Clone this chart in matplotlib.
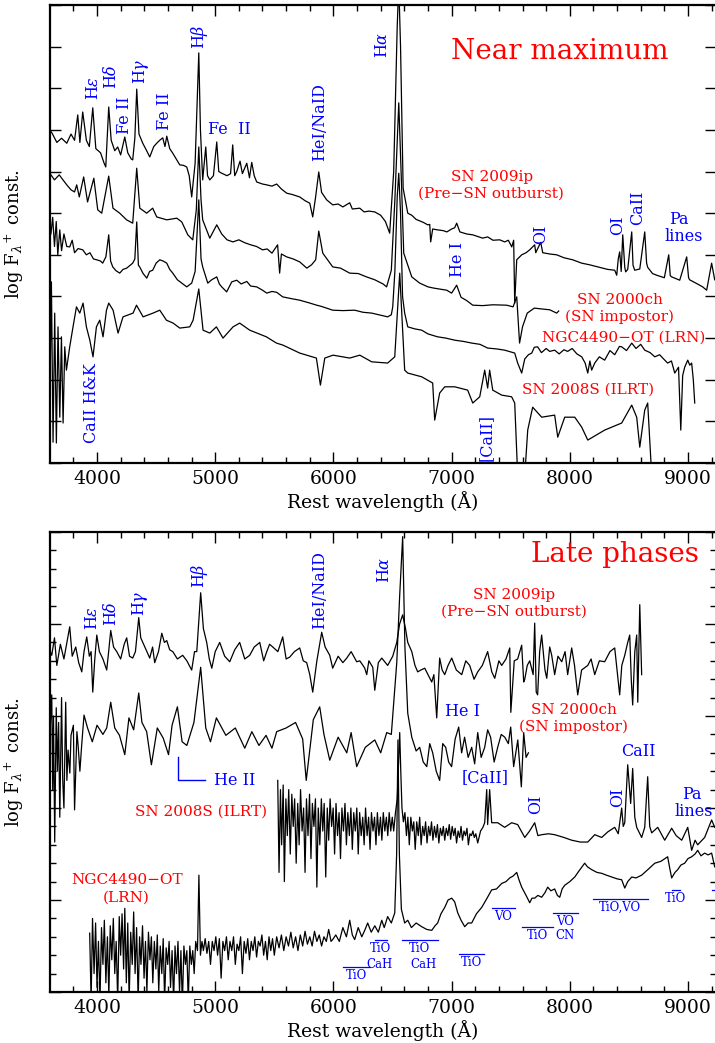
import numpy as np
import matplotlib.pyplot as plt
from matplotlib.ticker import MultipleLocator, NullFormatter

plt.rcParams['font.family'] = ['DejaVu Serif']
plt.rcParams['mathtext.fontset'] = 'dejavuserif'

BLUE = '#0000ff'
RED = '#ff0000'

# %% spectra near maximum  (wavelength [A], log F + const.)
sn2009ip_max = [
    (3600, 8.00), (3620, 7.92), (3660, 7.70), (3700, 7.80), (3744, 7.68), (3780, 7.90),
    (3810, 7.75), (3837, 8.36), (3855, 7.70), (3879, 8.43), (3910, 7.75), (3935, 7.60),
    (3964, 8.53), (3990, 7.55), (4030, 7.45), (4060, 7.20), (4074, 7.11), (4099, 8.55),
    (4120, 7.75), (4150, 7.50), (4175, 7.59), (4200, 7.40), (4235, 7.83), (4260, 7.45),
    (4290, 7.30), (4302, 7.28), (4320, 7.80), (4336, 8.98), (4355, 7.90), (4387, 7.68),
    (4420, 7.50), (4446, 7.35), (4480, 7.60), (4505, 7.68), (4530, 7.75), (4556, 7.81),
    (4575, 7.60), (4590, 7.85), (4615, 7.55), (4641, 7.44), (4670, 7.30), (4700, 7.16),
    (4730, 7.15), (4759, 7.11), (4780, 6.90), (4801, 6.39), (4830, 7.20), (4861, 9.85),
    (4875, 8.00), (4894, 6.80), (4920, 7.59), (4935, 6.90), (4954, 6.80), (4985, 6.90),
    (5013, 7.71), (5030, 7.00), (5055, 6.96), (5100, 6.90), (5130, 6.95), (5148, 7.64),
    (5165, 6.90), (5182, 7.00), (5210, 7.25), (5230, 6.95), (5267, 7.20), (5290, 6.85),
    (5309, 7.22), (5330, 6.90), (5351, 6.75), (5400, 6.70), (5436, 6.68), (5480, 6.65),
    (5520, 6.70), (5560, 6.58), (5605, 6.48), (5650, 6.45), (5715, 6.39), (5760, 6.30),
    (5800, 6.24), (5825, 5.91), (5850, 6.40), (5876, 6.99), (5900, 6.50), (5943, 6.32),
    (5994, 6.20), (6040, 6.22), (6080, 6.15), (6138, 6.25), (6160, 6.10), (6223, 6.12),
    (6260, 6.03), (6300, 6.05), (6350, 6.03), (6400, 5.95), (6440, 5.80), (6476, 5.52),
    (6510, 7.00), (6540, 10.5), (6553, 11.5), (6568, 10.0), (6590, 6.60), (6629, 6.00),
    (6663, 5.95), (6700, 5.85), (6760, 5.78), (6798, 5.72), (6815, 5.73), (6823, 5.31),
    (6840, 5.62), (6880, 5.60), (6930, 5.58), (6960, 5.55), (7000, 5.62), (7026, 5.65),
    (7043, 5.76), (7070, 5.55), (7128, 5.50), (7179, 5.48), (7263, 5.40), (7305, 5.43),
    (7350, 5.35), (7407, 5.36), (7449, 5.31), (7480, 5.35), (7509, 5.19), (7525, 5.35),
    (7534, 3.84), (7545, 4.50), (7551, 4.88), (7593, 5.00), (7630, 5.05), (7661, 5.12),
    (7703, 5.24), (7712, 5.05), (7720, 5.10), (7754, 5.30), (7771, 5.05), (7830, 5.02),
    (7889, 5.00), (7950, 4.93), (8025, 4.88), (8100, 4.80), (8168, 4.76), (8250, 4.70),
    (8320, 4.65), (8380, 4.63), (8397, 4.51), (8410, 4.90), (8422, 5.07), (8435, 4.60),
    (8448, 5.48), (8465, 4.70), (8473, 4.59), (8490, 4.65), (8524, 5.55), (8535, 4.75),
    (8549, 4.63), (8592, 4.66), (8634, 5.55), (8650, 4.80), (8659, 4.70), (8700, 4.55),
    (8735, 4.51), (8800, 4.45), (8837, 5.00), (8850, 4.50), (8862, 4.47), (8930, 4.39),
    (8989, 4.95), (9005, 4.45), (9014, 4.40), (9080, 4.30), (9124, 4.23), (9158, 4.15),
    (9200, 4.80), (9226, 4.40),
]

sn2000ch_max = [
    (3600, 6.96), (3640, 6.80), (3680, 6.92), (3744, 6.68), (3780, 6.56), (3810, 6.51),
    (3828, 6.68), (3850, 6.39), (3887, 6.87), (3920, 6.27), (3973, 6.84), (4006, 6.08),
    (4040, 6.00), (4099, 6.89), (4135, 6.12), (4192, 6.00), (4250, 5.84), (4302, 5.76),
    (4336, 7.08), (4362, 6.12), (4420, 6.00), (4471, 6.12), (4505, 5.91), (4590, 5.84),
    (4675, 5.88), (4717, 5.79), (4768, 5.48), (4810, 5.36), (4840, 6.08), (4861, 7.59),
    (4880, 6.32), (4894, 5.84), (4954, 5.40), (5013, 5.72), (5055, 5.50), (5100, 5.36),
    (5150, 5.31), (5200, 5.36), (5250, 5.29), (5300, 5.24), (5350, 5.20), (5400, 5.12),
    (5440, 5.14), (5480, 5.04), (5528, 5.24), (5545, 4.56), (5560, 5.02), (5605, 4.95),
    (5660, 4.90), (5715, 4.83), (5775, 4.68), (5815, 4.76), (5850, 4.88), (5876, 5.57),
    (5910, 5.04), (5994, 4.71), (6060, 4.68), (6138, 4.56), (6210, 4.55), (6280, 4.47),
    (6350, 4.40), (6420, 4.30), (6450, 4.23), (6490, 4.63), (6520, 6.32), (6553, 8.65),
    (6575, 6.80), (6595, 5.04), (6663, 4.47), (6730, 4.32), (6800, 4.23), (6850, 4.20),
    (6959, 4.15), (7000, 4.08), (7043, 4.27), (7080, 3.98), (7128, 3.90), (7179, 3.79),
    (7263, 3.78), (7350, 3.80), (7466, 3.79), (7520, 3.75), (7551, 3.99), (7575, 2.88),
    (7600, 3.27), (7640, 3.60), (7700, 3.72), (7760, 3.70), (7830, 3.68), (7889, 3.60),
    (7906, 3.65),
]

ngc4490_max = [
    (3610, 5.50), (3625, 5.90), (3640, 5.20), (3655, 5.80), (3668, 5.00), (3685, 5.60),
    (3700, 5.10), (3720, 5.50), (3744, 5.20), (3769, 5.19), (3790, 5.35), (3810, 5.05),
    (3840, 5.15), (3879, 5.12), (3910, 5.00), (3940, 5.05), (3970, 4.90), (3998, 4.88),
    (4030, 4.85), (4048, 4.80), (4075, 4.95), (4099, 5.48), (4115, 4.85), (4133, 4.71),
    (4160, 4.62), (4192, 4.56), (4220, 4.65), (4251, 4.68), (4280, 4.75), (4302, 4.80),
    (4320, 4.90), (4336, 5.79), (4350, 4.75), (4361, 4.71), (4390, 4.55), (4421, 4.44),
    (4445, 4.60), (4471, 4.63), (4500, 4.80), (4531, 4.88), (4560, 4.85), (4590, 4.80),
    (4615, 4.65), (4641, 4.56), (4680, 4.40), (4717, 4.32), (4759, 4.23), (4801, 4.32),
    (4830, 4.60), (4861, 6.32), (4880, 4.90), (4894, 4.71), (4937, 4.32), (4970, 4.40),
    (5013, 4.47), (5035, 4.30), (5055, 4.23), (5097, 4.11), (5140, 4.35), (5182, 4.39),
    (5220, 4.30), (5267, 4.36), (5300, 4.25), (5351, 4.23), (5400, 4.15), (5436, 4.08),
    (5480, 4.12), (5520, 4.10), (5571, 3.99), (5640, 3.95), (5715, 3.91), (5790, 3.85),
    (5859, 3.79), (5900, 3.76), (5943, 3.72), (5994, 3.67), (6080, 3.66), (6180, 3.67),
    (6250, 3.62), (6324, 3.60), (6400, 3.55), (6459, 3.51), (6490, 3.56), (6502, 3.75),
    (6520, 4.60), (6540, 6.40), (6553, 6.96), (6568, 6.00), (6585, 4.00), (6603, 3.60),
    (6629, 3.27), (6690, 3.22), (6747, 3.19), (6800, 3.10), (6882, 3.03), (6950, 3.00),
    (7026, 2.95), (7100, 2.92), (7170, 2.88), (7240, 2.85), (7305, 2.76), (7380, 2.74),
    (7449, 2.71), (7534, 2.64), (7559, 2.40), (7593, 2.16), (7619, 2.50), (7650, 2.60),
    (7678, 2.64), (7700, 2.78), (7728, 2.79), (7760, 2.65), (7800, 2.75), (7830, 2.68),
    (7872, 2.71), (7910, 2.62), (7950, 2.72), (7982, 2.68), (8020, 2.75), (8060, 2.62),
    (8101, 2.55), (8130, 2.40), (8152, 2.16), (8170, 2.45), (8185, 2.23), (8211, 2.40),
    (8250, 2.55), (8295, 2.47), (8340, 2.70), (8380, 2.60), (8420, 2.80), (8439, 2.79),
    (8480, 2.70), (8524, 2.88), (8560, 2.75), (8600, 2.85), (8634, 2.71), (8680, 2.65),
    (8719, 2.55), (8760, 2.60), (8800, 2.48), (8828, 2.40), (8860, 2.45), (8888, 2.16),
    (8920, 2.30), (8939, 0.79), (8955, 2.10), (8972, 2.30), (8998, 2.47), (9015, 2.35),
    (9031, 2.40), (9045, 2.00), (9057, 1.44),
]

sn2008s_max = [
    (3603, 2.00), (3614, 4.35), (3628, 0.50), (3642, 3.60), (3656, 0.48), (3670, 3.27),
    (3685, 1.10), (3699, 3.03), (3713, 0.96), (3727, 2.79), (3741, 2.23), (3769, 2.79),
    (3797, 3.27), (3826, 3.75), (3854, 3.60), (3882, 3.84), (3910, 3.27), (3939, 2.95),
    (3966, 2.55), (3995, 3.27), (4023, 3.43), (4051, 3.03), (4080, 3.67), (4099, 3.84),
    (4136, 3.67), (4178, 3.12), (4220, 3.51), (4305, 3.60), (4334, 3.79), (4390, 3.51),
    (4474, 3.60), (4531, 3.67), (4587, 3.43), (4644, 3.36), (4700, 3.24), (4785, 3.27),
    (4813, 3.43), (4861, 4.18), (4897, 3.19), (4954, 3.12), (5010, 3.27), (5066, 3.00),
    (5151, 3.27), (5207, 3.36), (5292, 3.19), (5433, 3.03), (5518, 2.88), (5574, 2.83),
    (5715, 2.64), (5856, 2.52), (5890, 1.87), (5927, 2.52), (5997, 2.59), (6138, 2.52),
    (6223, 2.59), (6324, 2.43), (6459, 2.40), (6519, 2.55), (6561, 4.56), (6603, 2.23),
    (6629, 2.16), (6747, 2.07), (6840, 1.92), (6857, 1.03), (6899, 1.68), (6942, 1.83),
    (7026, 1.83), (7136, 1.75), (7179, 1.44), (7238, 1.59), (7280, 2.23), (7305, 1.80),
    (7322, 2.23), (7348, 1.75), (7424, 1.63), (7508, 1.59), (7534, 1.44), (7559, -0.30),
    (7619, -0.30), (7644, 0.79), (7686, 1.34), (7762, 1.10), (7872, 1.15), (7898, 0.62),
    (7957, 1.10), (8042, 1.10), (8101, 0.86), (8152, 0.55), (8295, 0.79), (8439, 0.96),
    (8524, 1.39), (8566, 1.10), (8592, 0.38), (8634, 1.27), (8659, 1.44), (8693, -0.30),
]

# %% spectra at late phases
sn2009ip_late = [
    (3605, 3.70), (3617, 3.66), (3640, 3.85), (3660, 3.55), (3690, 3.78), (3720, 3.62),
    (3745, 3.80), (3769, 3.97), (3790, 3.65), (3820, 3.75), (3845, 3.58), (3871, 3.48),
    (3890, 3.70), (3913, 3.86), (3935, 3.65), (3950, 3.70), (3964, 3.26), (3980, 3.60),
    (3998, 3.88), (4020, 3.70), (4050, 3.62), (4082, 3.50), (4100, 3.72), (4116, 3.93),
    (4140, 3.75), (4167, 3.70), (4200, 3.62), (4230, 3.78), (4251, 3.85), (4275, 3.65),
    (4302, 3.63), (4325, 3.70), (4353, 4.07), (4370, 3.85), (4387, 3.80), (4415, 3.72),
    (4446, 3.63), (4470, 3.75), (4488, 3.58), (4520, 3.70), (4548, 3.90), (4570, 3.80),
    (4590, 3.82), (4615, 3.72), (4641, 3.70), (4680, 3.62), (4725, 3.66), (4760, 3.60),
    (4801, 3.50), (4825, 3.70), (4844, 3.70), (4877, 4.34), (4900, 3.95), (4928, 3.80),
    (4950, 3.62), (4971, 3.52), (5000, 3.70), (5038, 3.80), (5080, 3.65), (5123, 3.59),
    (5165, 3.72), (5207, 3.80), (5250, 3.62), (5292, 3.66), (5330, 3.75), (5377, 3.80),
    (5410, 3.60), (5436, 3.70), (5460, 3.78), (5487, 3.75), (5530, 3.70), (5571, 3.86),
    (5600, 3.62), (5630, 3.64), (5670, 3.70), (5715, 3.74), (5745, 3.60), (5774, 3.58),
    (5800, 3.45), (5825, 3.26), (5860, 3.60), (5901, 3.91), (5930, 3.75), (5969, 3.66),
    (5994, 3.52), (6040, 3.65), (6080, 3.58), (6113, 3.63), (6150, 3.70), (6197, 3.59),
    (6223, 3.60), (6250, 3.55), (6265, 3.52), (6282, 3.45), (6300, 3.60), (6333, 3.53),
    (6350, 3.28), (6380, 3.58), (6409, 3.63), (6440, 3.58), (6459, 3.55), (6480, 3.60),
    (6502, 3.65), (6536, 3.80), (6560, 4.00), (6586, 4.10), (6610, 3.95), (6629, 3.80),
    (6663, 3.70), (6690, 3.55), (6713, 3.48), (6740, 3.50), (6773, 3.52), (6800, 3.45),
    (6832, 3.37), (6850, 3.45), (6874, 2.98), (6899, 3.63), (6920, 3.50), (6942, 3.45),
    (6970, 3.55), (7001, 3.63), (7040, 3.50), (7086, 3.45), (7120, 3.60), (7153, 3.55),
    (7190, 3.40), (7221, 3.48), (7260, 3.55), (7305, 3.70), (7340, 3.48), (7365, 3.41),
    (7400, 3.60), (7424, 3.55), (7460, 3.62), (7492, 3.74), (7501, 3.04), (7530, 3.60),
    (7559, 3.62), (7593, 3.77), (7610, 3.37), (7619, 3.40), (7640, 3.55), (7661, 3.60),
    (7690, 3.45), (7703, 4.01), (7716, 3.26), (7728, 3.23), (7745, 3.70), (7762, 3.88),
    (7790, 3.50), (7805, 3.41), (7830, 3.75), (7847, 3.66), (7872, 3.45), (7900, 3.65),
    (7932, 3.59), (7960, 3.70), (7982, 3.45), (8000, 3.60), (8016, 3.74), (8040, 3.55),
    (8067, 3.23), (8100, 3.50), (8152, 3.55), (8180, 3.62), (8211, 3.45), (8250, 3.60),
    (8295, 3.59), (8340, 3.70), (8380, 3.74), (8400, 3.50), (8422, 3.23), (8440, 3.55),
    (8465, 3.66), (8490, 3.80), (8507, 3.88), (8520, 3.40), (8532, 3.12), (8550, 3.70),
    (8566, 3.88), (8575, 3.15), (8592, 4.21), (8608, 3.45),
]

sn2000ch_late = [
    (3605, 2.90), (3617, 3.23), (3625, 2.20), (3632, 3.00), (3642, 1.63), (3655, 3.09),
    (3665, 2.40), (3675, 2.93), (3685, 1.90), (3700, 3.20), (3710, 2.30), (3720, 2.00),
    (3735, 3.15), (3745, 2.30), (3755, 2.63), (3770, 2.38), (3780, 2.79), (3800, 2.90),
    (3810, 1.98), (3830, 2.83), (3840, 2.68), (3855, 2.40), (3870, 2.68), (3890, 3.01),
    (3920, 2.87), (3960, 2.72), (4000, 2.90), (4050, 2.80), (4082, 2.87), (4116, 3.15),
    (4150, 2.87), (4190, 2.79), (4235, 2.58), (4270, 2.98), (4310, 2.85), (4353, 3.25),
    (4380, 2.93), (4420, 2.83), (4460, 2.47), (4510, 2.87), (4560, 2.76), (4605, 2.58),
    (4635, 2.90), (4680, 3.10), (4720, 2.72), (4760, 2.68), (4820, 2.93), (4877, 3.53),
    (4920, 2.87), (4960, 2.72), (5010, 2.98), (5090, 2.79), (5170, 2.87), (5250, 2.65),
    (5310, 2.83), (5370, 2.68), (5430, 2.79), (5480, 2.65), (5520, 2.83), (5600, 2.87),
    (5680, 2.93), (5740, 2.75), (5770, 2.30), (5830, 2.96), (5884, 3.10), (5920, 2.80),
    (5969, 2.52), (6040, 2.77), (6113, 2.60), (6150, 2.82), (6197, 2.45), (6270, 2.66),
    (6350, 2.74), (6400, 2.60), (6451, 2.82), (6490, 2.80), (6536, 3.58), (6560, 4.29),
    (6586, 4.95), (6605, 3.75), (6629, 3.03), (6663, 2.77), (6700, 2.62), (6730, 2.66),
    (6760, 2.50), (6790, 2.45), (6815, 2.70), (6840, 2.60), (6870, 2.40), (6899, 2.30),
    (6925, 2.70), (6950, 2.66), (6975, 2.50), (7000, 2.45), (7030, 2.75), (7060, 2.88),
    (7085, 2.60), (7110, 2.77), (7140, 2.55), (7170, 2.66), (7195, 2.48), (7221, 2.82),
    (7250, 2.55), (7280, 2.66), (7305, 2.85), (7330, 2.77), (7360, 2.50), (7390, 2.66),
    (7420, 2.80), (7450, 2.77), (7480, 2.70), (7500, 2.88), (7525, 2.45), (7560, 2.74),
    (7590, 2.23), (7610, 2.82), (7630, 2.55), (7650, 2.60),
]

sn2008s_late = [
    (5529, 2.30), (5540, 1.30), (5552, 2.20), (5562, 1.60), (5575, 2.25), (5585, 1.20),
    (5598, 2.10), (5610, 1.70), (5622, 2.20), (5635, 1.50), (5648, 2.15), (5660, 1.80),
    (5672, 2.10), (5685, 1.40), (5698, 2.05), (5710, 1.60), (5722, 2.20), (5735, 1.75),
    (5748, 2.00), (5760, 1.30), (5772, 2.10), (5785, 1.70), (5798, 2.15), (5810, 1.45),
    (5822, 2.05), (5835, 1.80), (5848, 2.10), (5860, 1.14), (5872, 2.00), (5885, 1.60),
    (5898, 2.10), (5910, 1.75), (5922, 2.05), (5935, 1.25), (5948, 2.00), (5960, 1.65),
    (5972, 2.10), (5985, 1.80), (5998, 2.00), (6010, 1.50), (6022, 2.05), (6035, 1.70),
    (6048, 1.95), (6060, 1.45), (6072, 2.00), (6085, 1.75), (6098, 2.05), (6110, 1.60),
    (6122, 1.95), (6135, 1.70), (6148, 2.00), (6160, 1.55), (6172, 1.95), (6185, 1.75),
    (6198, 2.00), (6210, 1.50), (6222, 1.95), (6235, 1.70), (6248, 1.90), (6260, 1.60),
    (6272, 2.00), (6285, 1.70), (6298, 1.90), (6310, 1.55), (6322, 1.95), (6335, 1.75),
    (6348, 1.90), (6360, 1.60), (6372, 1.95), (6385, 1.70), (6398, 1.90), (6410, 1.65),
    (6422, 1.95), (6435, 1.75), (6448, 1.90), (6460, 1.70), (6472, 1.95), (6485, 1.75),
    (6498, 1.90), (6510, 1.75), (6525, 1.95), (6540, 2.10), (6552, 2.50), (6561, 2.82),
    (6570, 2.40), (6580, 2.00), (6592, 1.85), (6605, 1.95), (6618, 1.70), (6630, 1.90),
    (6642, 1.60), (6655, 1.90), (6668, 1.75), (6680, 1.85), (6692, 1.55), (6705, 1.85),
    (6718, 1.70), (6730, 1.90), (6742, 1.60), (6755, 1.80), (6768, 1.70), (6780, 1.85),
    (6792, 1.62), (6805, 1.80), (6818, 1.70), (6830, 1.85), (6842, 1.65), (6855, 1.80),
    (6868, 1.68), (6880, 1.82), (6892, 1.62), (6905, 1.78), (6918, 1.70), (6930, 1.80),
    (6942, 1.65), (6955, 1.78), (6968, 1.70), (6980, 1.82), (6992, 1.66), (7005, 1.80),
    (7018, 1.70), (7030, 1.78), (7042, 1.62), (7055, 1.75), (7068, 1.68), (7080, 1.80),
    (7092, 1.65), (7105, 1.75), (7118, 1.70), (7130, 1.78), (7142, 1.60), (7155, 1.72),
    (7168, 1.70), (7180, 1.75), (7192, 1.68), (7205, 1.72), (7221, 1.62), (7245, 1.75),
    (7265, 1.79), (7280, 1.84), (7297, 2.20), (7305, 1.82), (7322, 2.20), (7339, 1.84),
    (7390, 1.84), (7449, 1.79), (7508, 1.84), (7559, 1.82), (7619, 1.68), (7660, 1.75),
    (7703, 1.84), (7730, 1.70), (7762, 1.71), (7820, 1.72), (7872, 1.71), (7950, 1.68),
    (8016, 1.65), (8090, 1.63), (8152, 1.63), (8211, 1.71), (8270, 1.68), (8321, 1.74),
    (8380, 1.79), (8410, 1.72), (8439, 2.00), (8452, 1.80), (8465, 1.84), (8490, 2.47),
    (8515, 2.05), (8532, 2.43), (8550, 1.90), (8566, 1.79), (8608, 1.68), (8634, 1.79),
    (8659, 2.34), (8676, 1.80), (8693, 1.73), (8744, 1.79), (8803, 1.65), (8862, 1.78),
    (8900, 1.70), (8947, 1.65), (8998, 1.79), (9031, 1.54), (9060, 1.65), (9082, 1.60),
    (9141, 1.68), (9200, 1.87), (9226, 1.79),
]

ngc4490_late = [
    (3938, 0.64), (3950, -0.10), (3962, 0.80), (3975, 0.20), (3988, 0.75), (4000, 0.05),
    (4012, 0.55), (4025, -0.10), (4038, 0.70), (4050, 0.30), (4062, 0.78), (4075, 0.10),
    (4088, 0.60), (4100, -0.05), (4112, 0.72), (4125, 0.35), (4138, 0.80), (4150, 0.20),
    (4162, 0.55), (4175, -0.10), (4188, 0.82), (4200, 0.40), (4212, 0.85), (4225, 0.25),
    (4235, 0.91), (4248, 0.10), (4260, 0.75), (4272, -0.10), (4285, 0.65), (4298, 0.30),
    (4310, 0.87), (4322, 0.20), (4335, 0.70), (4348, -0.10), (4360, 0.60), (4372, 0.30),
    (4385, 0.72), (4398, 0.15), (4410, 0.55), (4422, 0.00), (4435, 0.65), (4448, 0.35),
    (4460, 0.60), (4472, 0.10), (4485, 0.55), (4498, 0.25), (4510, 0.62), (4522, 0.00),
    (4535, 0.50), (4548, 0.20), (4560, 0.58), (4572, -0.10), (4585, 0.48), (4598, 0.30),
    (4610, 0.55), (4622, 0.05), (4635, 0.45), (4648, -0.10), (4660, 0.50), (4672, 0.20),
    (4685, 0.55), (4698, 0.00), (4710, 0.45), (4722, -0.15), (4735, 0.50), (4748, 0.30),
    (4760, 0.45), (4772, -0.10), (4785, 0.50), (4798, 0.30), (4810, 0.45), (4822, 0.20),
    (4835, 0.55), (4850, 0.45), (4862, 1.27), (4875, 0.40), (4888, 0.55), (4900, 0.45),
    (4915, 0.58), (4930, 0.42), (4945, 0.55), (4960, 0.30), (4975, 0.55), (4990, 0.45),
    (5005, 0.60), (5020, 0.40), (5035, 0.58), (5050, 0.15), (5065, 0.55), (5080, 0.45),
    (5095, 0.60), (5110, 0.35), (5125, 0.55), (5140, 0.45), (5155, 0.60), (5170, 0.30),
    (5185, 0.52), (5200, 0.45), (5215, 0.60), (5230, 0.20), (5245, 0.55), (5260, 0.42),
    (5275, 0.58), (5290, 0.35), (5305, 0.55), (5320, 0.45), (5335, 0.60), (5350, 0.38),
    (5365, 0.55), (5380, 0.50), (5395, 0.62), (5410, 0.40), (5425, 0.55), (5440, 0.35),
    (5455, 0.60), (5470, 0.45), (5485, 0.58), (5500, 0.40), (5520, 0.60), (5540, 0.48),
    (5560, 0.62), (5580, 0.45), (5600, 0.60), (5620, 0.50), (5640, 0.65), (5660, 0.48),
    (5680, 0.60), (5700, 0.45), (5720, 0.62), (5740, 0.50), (5760, 0.66), (5780, 0.52),
    (5800, 0.60), (5820, 0.50), (5840, 0.66), (5860, 0.55), (5880, 0.62), (5900, 0.50),
    (5920, 0.60), (5940, 0.55), (5960, 0.68), (5980, 0.55), (5994, 0.57), (6020, 0.62),
    (6050, 0.55), (6080, 0.70), (6110, 0.60), (6138, 0.78), (6160, 0.62), (6180, 0.57),
    (6210, 0.70), (6240, 0.60), (6265, 0.67), (6290, 0.75), (6320, 0.65), (6350, 0.72),
    (6380, 0.65), (6409, 0.78), (6430, 0.70), (6459, 0.82), (6490, 0.75), (6519, 0.86),
    (6535, 1.50), (6546, 2.74), (6558, 1.50), (6575, 0.90), (6603, 0.75), (6629, 0.78),
    (6660, 0.70), (6700, 0.75), (6747, 0.71), (6790, 0.68), (6832, 0.67), (6860, 0.72),
    (6882, 0.75), (6910, 0.85), (6942, 0.92), (6970, 1.00), (7001, 1.02), (7026, 0.98),
    (7052, 0.86), (7080, 0.78), (7111, 0.71), (7140, 0.75), (7170, 0.75), (7210, 0.85),
    (7255, 0.92), (7300, 1.02), (7339, 1.11), (7380, 1.12), (7424, 1.18), (7460, 1.20),
    (7492, 1.24), (7520, 1.26), (7551, 1.30), (7570, 1.22), (7593, 1.14), (7630, 1.05),
    (7661, 0.97), (7680, 1.02), (7703, 1.02), (7730, 1.05), (7762, 1.03), (7790, 1.08),
    (7813, 1.14), (7840, 1.10), (7872, 1.12), (7895, 1.05), (7915, 1.03), (7935, 1.12),
    (7957, 1.16), (8000, 1.20), (8042, 1.25), (8080, 1.32), (8126, 1.40), (8150, 1.36),
    (8185, 1.33), (8230, 1.30), (8270, 1.29), (8310, 1.27), (8355, 1.25), (8400, 1.23),
    (8439, 1.22), (8465, 1.13), (8490, 1.20), (8524, 1.25), (8560, 1.24), (8608, 1.27),
    (8660, 1.33), (8719, 1.40), (8770, 1.42), (8828, 1.47), (8845, 1.35), (8862, 1.24),
    (8890, 1.30), (8913, 1.33), (8940, 1.38), (8972, 1.40), (9000, 1.45), (9031, 1.47),
    (9060, 1.50), (9082, 1.54), (9110, 1.48), (9141, 1.51), (9170, 1.49), (9200, 1.51),
    (9226, 1.36),
]

# line identifications: (text, wavelength, y, rotation)
lines_max = [
    (r'H$\epsilon$', 3972, 9.01, 90), (r'H$\delta$', 4125, 9.27, 90),
    ('Fe II', 4235, 8.36, 90), (r'H$\gamma$', 4370, 9.41, 90),
    ('Fe II', 4573, 8.45, 90), (r'H$\beta$', 4869, 10.23, 90),
    ('Fe  II', 5123, 8.02, 0), ('HeI/NaID', 5884, 8.19, 90),
    (r'H$\alpha$', 6417, 10.04, 90), ('OI', 7754, 5.50, 90),
    ('OI', 8405, 5.72, 90), ('CaII', 8574, 6.12, 90),
    ('Pa', 8921, 5.84, 0), ('lines', 8964, 5.45, 0),
    ('He I', 7052, 4.88, 90), ('[CaII]', 7297, 0.62, 90),
    ('CaII H&K', 3955, 1.44, 90),
]
names_max = [
    ('SN 2009ip', 7339, 6.88), ('(Pre\u2212SN outburst)', 7331, 6.46),
    ('SN 2000ch', 8422, 3.91), ('(SN impostor)', 8422, 3.51),
    ('NGC4490\u2212OT (LRN)', 8456, 3.00), ('SN 2008S (ILRT)', 8152, 1.75),
]

lines_late = [
    (r'H$\epsilon$', 3964, 4.07, 90), (r'H$\delta$', 4125, 4.11, 90),
    (r'H$\gamma$', 4361, 4.23, 90), (r'H$\beta$', 4869, 4.52, 90),
    ('HeI/NaID', 5884, 4.37, 90), (r'H$\alpha$', 6434, 4.59, 90),
    ('He I', 7094, 3.05, 0), ('CaII', 8583, 2.61, 0),
    ('[CaII]', 7280, 2.33, 0), ('OI', 7712, 2.04, 90), ('OI', 8405, 2.12, 90),
    ('Pa', 9031, 2.15, 0), ('lines', 9048, 1.96, 0), ('He II', 5165, 2.30, 0),
]
names_late = [
    ('SN 2009ip', 7525, 4.32), ('(Pre\u2212SN outburst)', 7525, 4.13),
    ('SN 2000ch', 8033, 3.07), ('(SN impostor)', 8033, 2.88),
    ('SN 2008S (ILRT)', 4877, 1.96),
    ('NGC4490\u2212OT', 4251, 1.22), ('(LRN)', 4251, 1.03),
]

# molecular bands in NGC4490-OT: (label, start, end, bar y)
bands = [
    ('TiO', 6079, 6307, 0.27), ('TiO', 6350, 6451, 0.56), ('TiO', 6578, 6882, 0.56),
    ('TiO', 7060, 7272, 0.41), ('VO', 7339, 7534, 0.91), ('TiO', 7593, 7855, 0.71),
    ('VO', 7855, 8067, 0.86), ('TiO,VO', 8194, 8659, 1.01), ('TiO', 8862, 8930, 1.11),
    ('', 9200, 9240, 1.11),
]
band_extra = [('CaH', 6392, 0.30), ('CaH', 6764, 0.30), ('CN', 7957, 0.61)]

XLIM = (3602, 9237)

fig = plt.figure(figsize=(7.15, 10.43), dpi=100)
ax1 = fig.add_axes([0.0699, 0.5561, 0.9315, 0.4391])
ax2 = fig.add_axes([0.0699, 0.0489, 0.9315, 0.4410])


def style(ax, ylim, major, minor=None):
    ax.set_xlim(*XLIM)
    ax.set_ylim(*ylim)
    ax.xaxis.set_major_locator(MultipleLocator(1000))
    ax.xaxis.set_minor_locator(MultipleLocator(200))
    ax.yaxis.set_major_locator(MultipleLocator(major))
    if minor:
        ax.yaxis.set_minor_locator(MultipleLocator(minor))
    ax.yaxis.set_major_formatter(NullFormatter())
    ax.tick_params(which='both', direction='in', top=True, right=True, width=1.0)
    ax.tick_params(which='major', length=8, labelsize=13.5, pad=5)
    ax.tick_params(which='minor', length=4)
    for s in ax.spines.values():
        s.set_linewidth(1.6)
    ax.set_xlabel('Rest wavelength (\u00c5)', fontsize=13.5, labelpad=2)
    ax.set_ylabel(r'log F$_\lambda$$^{\!+}$ const.', fontsize=13, labelpad=12)


def draw(ax, spec):
    wl, fl = np.array(spec).T
    ax.plot(wl, fl, color='k', lw=0.9)


for s in [sn2009ip_max, sn2000ch_max, ngc4490_max, sn2008s_max]:
    draw(ax1, s)
for s in [sn2009ip_late, sn2000ch_late, sn2008s_late, ngc4490_late]:
    draw(ax2, s)

style(ax1, (0, 11), 1)
style(ax2, (0, 5), 1, 0.2)

for ax, lines, names in [(ax1, lines_max, names_max), (ax2, lines_late, names_late)]:
    for txt, x, y, rot in lines:
        ax.text(x, y, txt, color=BLUE, fontsize=11.5, rotation=rot,
                ha='center', va='center')
    for txt, x, y in names:
        ax.text(x, y, txt, color=RED, fontsize=11, ha='center', va='center')

ax1.text(7915, 9.89, 'Near maximum', color=RED, fontsize=20, ha='center', va='center')
ax2.text(8380, 4.76, 'Late phases', color=RED, fontsize=20, ha='center', va='center')

# He II marker
ax2.plot([4683, 4683, 4911], [2.55, 2.30, 2.30], color=BLUE, lw=1)

for txt, x0, x1, y in bands:
    ax2.plot([x0, x1], [y, y], color=BLUE, lw=0.9, clip_on=False)
    ax2.text((x0 + x1) / 2, y - 0.02, txt, color=BLUE, fontsize=8.5,
             ha='center', va='top')
for txt, x, y in band_extra:
    ax2.text(x, y, txt, color=BLUE, fontsize=8.5, ha='center', va='center')

fig.savefig('out.png', dpi=100)
